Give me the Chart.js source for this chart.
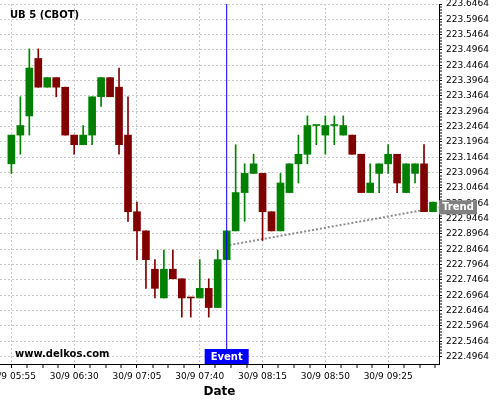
<!DOCTYPE html>
<html>
<head>
<meta charset="utf-8">
<script src="https://cdn.jsdelivr.net/npm/chart.js@4.4.1/dist/chart.umd.min.js"></script>
<style>
  html, body { margin: 0; padding: 0; background: #fff; }
  #wrap { width: 500px; height: 400px; }
</style>
</head>
<body>
<div id="wrap"><canvas id="priceChart" width="500" height="400"></canvas></div>
<script>
// 5 minute candles, 30/9 05:55 -> 09:50
const opens = [223.125, 223.21875, 223.28125, 223.46875, 223.375, 223.40625, 223.375, 223.21875, 223.1875, 223.21875, 223.34375, 223.40625, 223.375, 223.21875, 222.96875, 222.90625, 222.78125, 222.6875, 222.78125, 222.75, 222.6875, 222.6875, 222.71875, 222.65625, 222.8125, 222.90625, 223.03125, 223.09375, 223.09375, 222.96875, 222.90625, 223.03125, 223.125, 223.15625, 223.25, 223.21875, 223.25, 223.21875, 223.21875, 223.15625, 223.03125, 223.09375, 223.125, 223.15625, 223.03125, 223.09375, 223.125, 222.96875];
const highs = [223.21875, 223.34375, 223.5, 223.5, 223.40625, 223.40625, 223.375, 223.21875, 223.25, 223.34375, 223.40625, 223.40625, 223.4375, 223.34375, 223.0, 222.90625, 222.8125, 222.84375, 222.84375, 222.75, 222.6875, 222.8125, 222.75, 222.84375, 222.90625, 223.1875, 223.125, 223.15625, 223.09375, 222.96875, 223.09375, 223.125, 223.21875, 223.28125, 223.25, 223.28125, 223.28125, 223.28125, 223.21875, 223.15625, 223.125, 223.125, 223.1875, 223.15625, 223.125, 223.125, 223.1875, 223.0];
const lows = [223.09375, 223.15625, 223.21875, 223.375, 223.375, 223.34375, 223.21875, 223.15625, 223.1875, 223.1875, 223.3125, 223.34375, 223.15625, 222.9375, 222.8125, 222.71875, 222.6875, 222.6875, 222.75, 222.625, 222.625, 222.6875, 222.625, 222.65625, 222.8125, 222.90625, 222.9375, 223.09375, 222.875, 222.90625, 222.90625, 223.03125, 223.0625, 223.125, 223.1875, 223.15625, 223.1875, 223.21875, 223.15625, 223.03125, 223.03125, 223.03125, 223.09375, 223.03125, 223.03125, 223.0625, 222.96875, 222.96875];
const closes = [223.21875, 223.25, 223.4375, 223.375, 223.40625, 223.375, 223.21875, 223.1875, 223.21875, 223.34375, 223.40625, 223.34375, 223.1875, 222.96875, 222.90625, 222.8125, 222.71875, 222.78125, 222.75, 222.6875, 222.6875, 222.71875, 222.65625, 222.8125, 222.90625, 223.03125, 223.09375, 223.125, 222.96875, 222.90625, 223.0625, 223.125, 223.15625, 223.25, 223.25, 223.25, 223.25, 223.25, 223.15625, 223.03125, 223.0625, 223.125, 223.15625, 223.0625, 223.125, 223.125, 222.96875, 223.0];
// dojis drawn green (others red)
const upDoji = [34, 36];

const xTickLabels = ['30/9 05:55', '30/9 06:30', '30/9 07:05', '30/9 07:40', '30/9 08:15', '30/9 08:50', '30/9 09:25'];
const xLabelStep = 7;
const priceTicks = [222.4964, 222.5464, 222.5964, 222.6464, 222.6964, 222.7464, 222.7964, 222.8464, 222.8964, 222.9464, 222.9964, 223.0464, 223.0964, 223.1464, 223.1964, 223.2464, 223.2964, 223.3464, 223.3964, 223.4464, 223.4964, 223.5464, 223.5964, 223.6464];

const eventIndex = 24;
const trendX = [24.3, 47.6];
const trendY = [222.860, 222.983];

const yMin = 222.472, yMax = 223.6464;
const xMin = -1.27, xMax = 47.67;

const UP = '#008000', DOWN = '#800000';
function candleColor(i) {
  if (closes[i] > opens[i]) return UP;
  if (closes[i] < opens[i]) return DOWN;
  return upDoji.includes(i) ? UP : DOWN;
}

// minor ticks: 4 between each labelled price, 3 between each labelled time
const yTickValues = [];
priceTicks.forEach((p, i) => {
  yTickValues.push(p);
  if (i < priceTicks.length - 1) {
    for (let k = 1; k < 5; k++) yTickValues.push(p + k * 0.01);
  }
});
const xTickValues = [];
for (let k = 0; k * 1.75 <= xMax; k++) xTickValues.push(k * 1.75);

function isMajorPrice(v) { return priceTicks.some(p => Math.abs(p - v) < 1e-6); }
function isMajorTime(v) { return Math.abs(v / xLabelStep - Math.round(v / xLabelStep)) < 1e-6; }

const bodyData = opens.map((o, i) => ({ x: i, y: [o, closes[i]] }));
const wickData = lows.map((l, i) => ({ x: i, y: [l, highs[i]] }));

Chart.defaults.font.family = '"DejaVu Sans", sans-serif';
Chart.defaults.color = '#000';

const notesPlugin = {
  id: 'notes',
  afterDraw(chart) {
    const { ctx, chartArea: a, scales: { x, y } } = chart;
    ctx.save();
    ctx.font = 'bold 10px "DejaVu Sans"';
    ctx.textBaseline = 'middle';
    ctx.textAlign = 'left';
    ctx.fillStyle = '#000';
    ctx.fillText('UB 5 (CBOT)', a.left + 10, a.top + 11.5);
    ctx.fillText('www.delkos.com', a.left + 15, a.bottom - 10);

    const ex = x.getPixelForValue(eventIndex);
    ctx.fillStyle = '#0000ff';
    ctx.fillRect(ex - 22, a.bottom - 15, 44, 15);
    ctx.fillStyle = '#fff';
    ctx.textAlign = 'center';
    ctx.fillText('Event', ex, a.bottom - 7);

    const ty = y.getPixelForValue(trendY[trendY.length - 1]);
    ctx.fillStyle = '#808080';
    ctx.fillRect(a.right, ty - 7, 38, 14);
    ctx.fillStyle = '#fff';
    ctx.fillText('Trend', a.right + 19, ty);
    ctx.restore();
  }
};

new Chart(document.getElementById('priceChart'), {
  type: 'bar',
  data: {
    datasets: [
      {
        type: 'line',
        data: [{ x: eventIndex, y: yMin }, { x: eventIndex, y: yMax }],
        borderColor: '#0000ff',
        borderWidth: 1,
        pointRadius: 0,
        order: 0
      },
      {
        data: bodyData,
        backgroundColor: c => candleColor(c.dataIndex),
        barThickness: 7,
        minBarLength: 1,
        grouped: false,
        order: 1
      },
      {
        data: wickData,
        backgroundColor: c => candleColor(c.dataIndex),
        barThickness: 1,
        grouped: false,
        order: 2
      },
      {
        type: 'line',
        data: trendX.map((v, i) => ({ x: v, y: trendY[i] })),
        borderColor: '#8c8c8c',
        borderWidth: 2,
        borderDash: [2, 2],
        pointRadius: 0,
        order: 3
      }
    ]
  },
  options: {
    responsive: false,
    animation: false,
    devicePixelRatio: 1,
    layout: { padding: { top: 4, left: 0, right: 0, bottom: 0 } },
    plugins: { legend: { display: false }, tooltip: { enabled: false } },
    scales: {
      x: {
        type: 'linear',
        position: 'bottom',
        min: xMin,
        max: xMax,
        offset: false,
        afterBuildTicks: s => { s.ticks = xTickValues.map(v => ({ value: v })); },
        afterFit: s => { s.height = 36; s.paddingLeft = 0; s.paddingRight = 0; },
        grid: {
          offset: false,
          color: '#c8c8c8',
          lineWidth: c => (c.tick && isMajorTime(c.tick.value)) ? 1 : 0,
          tickColor: '#000',
          tickWidth: 1,
          tickLength: 4
        },
        border: { color: '#000', width: 1, dash: [2, 2] },
        ticks: {
          autoSkip: false,
          maxRotation: 0,
          padding: 3,
          font: { size: 9 },
          callback: v => isMajorTime(v) ? (xTickLabels[Math.round(v / xLabelStep)] || '') : ''
        },
        title: { display: true, text: 'Date', font: { size: 12, weight: 'bold' }, padding: { top: 0, bottom: 1 } }
      },
      y: {
        type: 'linear',
        position: 'right',
        min: yMin,
        max: yMax,
        afterBuildTicks: s => { s.ticks = yTickValues.map(v => ({ value: v })); },
        afterFit: s => { s.width = 61; s.paddingTop = 0; s.paddingBottom = 0; },
        grid: {
          color: '#c8c8c8',
          lineWidth: c => (c.tick && isMajorPrice(c.tick.value)) ? 1 : 0,
          tickColor: '#000',
          tickWidth: 1,
          tickLength: 3
        },
        border: { color: '#000', width: 1, dash: [2, 2] },
        ticks: {
          autoSkip: false,
          padding: 4,
          font: { size: 9 },
          callback: v => isMajorPrice(v) ? v.toFixed(4) : ''
        }
      }
    }
  },
  plugins: [notesPlugin]
});
</script>
</body>
</html>
